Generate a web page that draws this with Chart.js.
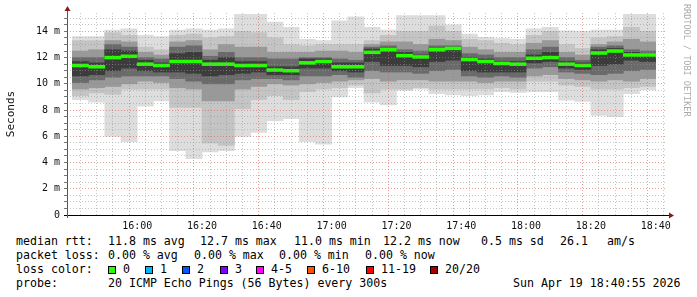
<!DOCTYPE html>
<html>
<head>
<meta charset="utf-8">
<script src="https://cdn.jsdelivr.net/npm/chart.js@4.4.1/dist/chart.umd.min.js"></script>
<style>
  html, body { margin: 0; padding: 0; background: #fff; }
  #wrap { position: relative; width: 697px; height: 297px; overflow: hidden; font-family: "DejaVu Sans Mono", monospace; }
  #plot { position: absolute; left: 0; top: 0; width: 697px; height: 232px; }
  .t { position: absolute; font-size: 11.6px; line-height: 14px; color: #000; white-space: pre; }
  .sq { position: absolute; width: 6px; height: 6px; border: 1px solid #000; }
  #wm { position: absolute; left: 682px; top: 4px; writing-mode: vertical-rl; font-size: 8.5px; color: #aaa; white-space: pre; }
</style>
</head>
<body>
<div id="wrap">
  <div id="plot"><canvas id="chart"></canvas></div>
  <div id="wm">RRDTOOL / TOBI OETIKER</div>
  <div id="legend"></div>
</div>
<script>
// 5 minute bins, last 3 hours (15:40:55 - 18:40:55)
const bins = ['15:40','15:45','15:50','15:55','16:00','16:05','16:10','16:15','16:20','16:25',
              '16:30','16:35','16:40','16:45','16:50','16:55','17:00','17:05','17:10','17:15',
              '17:20','17:25','17:30','17:35','17:40','17:45','17:50','17:55','18:00','18:05',
              '18:10','18:15','18:20','18:25','18:30','18:35'];

// median rtt per bin (ms)
const medianRtt = [11.4,11.3,12.0,12.1,11.5,11.4,11.7,11.7,11.5,11.5,
                   11.4,11.4,11.05,11.0,11.6,11.7,11.3,11.3,12.4,12.6,
                   12.15,12.05,12.6,12.7,11.85,11.7,11.55,11.5,11.95,12.0,
                   11.5,11.4,12.35,12.5,12.2,12.2];

// smoke: outer range (fastest / slowest ping)
const minRtt = [8.8,8.6,6.0,5.6,8.3,8.7,4.9,4.3,4.8,4.9,
                6.0,6.3,7.2,7.35,5.6,5.4,9.0,9.7,8.6,8.4,
                9.5,9.6,9.25,9.15,9.1,9.15,9.4,9.35,9.4,9.4,
                8.75,8.65,7.6,7.5,9.25,9.55];
const maxRtt = [13.6,13.6,14.1,14.2,13.7,13.6,14.1,14.2,14.1,14.2,
                15.3,15.3,14.7,14.3,13.4,13.3,14.8,15.1,14.3,14.1,
                15.2,15.2,15.2,14.5,13.8,13.55,13.45,13.4,14.2,14.3,
                14.05,14.0,14.1,14.1,15.3,15.3];

// inner smoke layers, light to dark
const lowA  = [9.1,9.3,9.2,9.6,9.6,9.6,8.2,8.2,5.5,5.3,
               8.1,8.8,9.1,8.8,9.4,9.6,9.7,9.9,9.3,9.6,
               9.6,9.7,9.6,9.6,9.6,9.6,9.7,9.6,10.2,10.2,
               9.9,9.8,9.6,9.6,9.7,9.8];
const highA = [13.3,13.3,13.9,13.7,12.8,12.6,13.7,13.8,13.5,13.6,
               14.0,13.9,13.5,13.0,12.9,13.0,13.0,13.0,13.3,13.7,
               14.0,14.0,14.4,14.0,13.4,13.3,13.1,13.0,13.7,14.0,
               13.0,12.7,13.5,13.6,14.3,14.0];
const lowB  = [9.6,9.7,9.8,10.0,10.2,10.1,9.7,9.6,8.7,8.7,
               9.6,9.8,10.0,9.9,10.0,10.1,10.2,10.3,10.4,10.2,
               10.3,10.3,10.2,10.2,10.2,10.1,10.2,10.2,10.6,10.7,
               10.4,10.3,10.2,10.3,10.2,10.4];
const highB = [12.5,12.6,13.3,13.2,12.4,12.2,13.2,13.3,12.6,13.0,
               12.8,12.8,12.4,12.4,12.4,12.5,12.5,12.4,13.0,13.2,
               13.2,13.0,13.4,13.3,12.8,12.6,12.4,12.4,13.1,13.3,
               12.4,12.2,13.0,13.2,13.4,13.2];
const lowC  = [10.1,10.3,10.5,10.6,10.6,10.6,10.4,10.2,10.0,10.0,
               10.3,10.4,10.4,10.3,10.6,10.6,10.7,10.5,11.0,10.9,
               10.9,10.8,11.0,11.1,10.6,10.5,10.6,10.5,11.2,11.3,
               10.9,10.8,10.7,10.8,11.0,11.1];
const highC = [12.0,12.0,13.0,12.8,12.0,11.9,12.8,12.9,12.1,12.4,
               12.0,12.0,11.9,11.9,12.0,12.0,11.9,11.8,12.8,12.9,
               12.6,12.5,12.9,12.9,12.3,12.2,12.0,12.0,12.6,12.8,
               12.0,11.8,12.8,12.9,12.6,12.5];
const lowD  = [10.6,10.7,11.0,11.2,11.0,10.9,10.9,10.8,10.6,10.7,
               10.8,10.9,10.7,10.7,11.2,11.2,11.0,10.9,11.7,11.4,
               11.4,11.3,11.7,11.8,11.0,10.9,10.9,10.9,11.6,11.7,
               11.2,11.1,11.4,11.5,11.8,11.7];
const highD = [11.7,11.6,12.6,12.5,11.8,11.6,12.3,12.4,11.8,12.0,
               11.7,11.7,11.3,11.3,11.9,11.9,11.6,11.6,12.65,12.7,
               12.4,12.2,12.7,12.8,12.0,11.9,11.7,11.7,12.2,12.4,
               11.7,11.6,12.6,12.7,12.4,12.3];

const lossColors = ['#26ff00','#00b8ff','#0059ff','#7e00ff','#ff00ff','#ff5500','#ff0000','#a10000'];
const lossLabels = ['0','1','2','3','4-5','6-10','11-19','20/20'];

// minutes since 15:00
function toMin(s) {
    const p = s.split(':');
    return parseInt(p[0]) * 60 + parseInt(p[1]) - 900;
}
function fmtMin(v) {
    const t = v + 900;
    return String(Math.floor(t / 60)).padStart(2, '0') + ':' + String(t % 60).padStart(2, '0');
}
const binMid = bins.map(b => toMin(b) + 2.5);

function band(lo, hi, color) {
    return {
        type: 'bar',
        data: bins.map((b, i) => ({x: binMid[i], y: [lo[i], hi[i]]})),
        backgroundColor: color,
        borderWidth: 0,
        barPercentage: 1,
        categoryPercentage: 1,
        grouped: false
    };
}

const mono = '"DejaVu Sans Mono", monospace';
const minorGrid = 'rgba(150,150,150,0.55)';
const majorGrid = 'rgba(225,90,90,0.6)';

// axis lines and arrows like rrdtool
const axesPlugin = {
    id: 'rrdAxes',
    afterDraw(chart) {
        const ctx = chart.ctx;
        const a = chart.chartArea;
        ctx.save();
        ctx.lineWidth = 1;
        ctx.strokeStyle = '#000';
        ctx.beginPath();
        ctx.moveTo(a.left - 3, Math.round(a.bottom) + 0.5);
        ctx.lineTo(a.right + 3, Math.round(a.bottom) + 0.5);
        ctx.stroke();
        ctx.strokeStyle = '#555';
        ctx.beginPath();
        ctx.moveTo(Math.round(a.left) + 0.5, a.bottom + 3);
        ctx.lineTo(Math.round(a.left) + 0.5, a.top - 3);
        ctx.stroke();
        ctx.fillStyle = '#8b1a1a';
        const lx = Math.round(a.left) + 0.5;
        ctx.beginPath();
        ctx.moveTo(lx, a.top - 7);
        ctx.lineTo(lx - 3, a.top - 2);
        ctx.lineTo(lx + 3, a.top - 2);
        ctx.closePath();
        ctx.fill();
        const by = Math.round(a.bottom) + 0.5;
        ctx.beginPath();
        ctx.moveTo(a.right + 7, by);
        ctx.lineTo(a.right + 2, by - 3);
        ctx.lineTo(a.right + 2, by + 3);
        ctx.closePath();
        ctx.fill();
        ctx.restore();
    }
};

const datasets = [
    band(medianRtt.map(m => m - 0.11), medianRtt.map(m => m + 0.11), lossColors[0]),
    band(lowD, highD, '#3c3c3c'),
    band(lowC, highC, '#6a6a6a'),
    band(lowB, highB, '#999999'),
    band(lowA, highA, '#c4c4c4'),
    band(minRtt, maxRtt, '#dddddd')
];

new Chart(document.getElementById('chart'), {
    type: 'bar',
    data: { datasets: datasets },
    options: {
        responsive: true,
        maintainAspectRatio: false,
        animation: false,
        events: [],
        layout: { padding: { top: 13, right: 30, left: 0, bottom: 0 } },
        plugins: { legend: { display: false }, tooltip: { enabled: false } },
        scales: {
            x: {
                type: 'linear',
                min: 40 + 55 / 60,
                max: 220 + 55 / 60,
                afterFit: s => { s.height = 17; },
                afterBuildTicks: s => {
                    s.ticks = [];
                    for (let v = 45; v <= 220; v += 5) s.ticks.push({value: v});
                },
                ticks: {
                    autoSkip: false,
                    maxRotation: 0,
                    padding: 5,
                    color: '#111',
                    font: { family: mono, size: 10 },
                    callback: v => v % 20 === 0 ? fmtMin(v) : ''
                },
                grid: {
                    z: 1,
                    drawTicks: false,
                    color: ctx => (ctx.tick && ctx.tick.value % 20 === 0) ? majorGrid : minorGrid
                },
                border: { display: false, dash: [1, 2] }
            },
            y: {
                min: 0,
                max: 15.4,
                afterFit: s => { s.width = 67; },
                afterBuildTicks: s => {
                    s.ticks = [];
                    for (let v = 0; v <= 15; v += 0.5) s.ticks.push({value: v});
                },
                ticks: {
                    autoSkip: false,
                    padding: 4,
                    color: '#111',
                    font: { family: mono, size: 10 },
                    callback: v => v % 2 === 0 ? (v === 0 ? '0' : v + ' m') : ''
                },
                grid: {
                    z: 1,
                    tickLength: 3,
                    tickColor: '#777',
                    color: ctx => (ctx.tick && ctx.tick.value % 2 === 0) ? majorGrid : minorGrid
                },
                border: { display: false, dash: [1, 2] },
                title: {
                    display: true,
                    text: 'Seconds',
                    color: '#111',
                    font: { family: mono, size: 11 },
                    padding: { top: 5, bottom: 0 }
                }
            }
        }
    },
    plugins: [axesPlugin]
});

// legend text below the graph
const legend = document.getElementById('legend');
function put(x, y, text) {
    const d = document.createElement('div');
    d.className = 't';
    d.style.left = x + 'px';
    d.style.top = y + 'px';
    d.textContent = text;
    legend.appendChild(d);
    return d;
}
const lineTop = [234, 248, 262, 276];
put(16, lineTop[0], 'median rtt:');
[[108,'11.8 ms avg'],[200,'12.7 ms max'],[294,'11.0 ms min'],[383,'12.2 ms now'],
 [481,'0.5 ms sd'],[560,'26.1'],[607,'am/s']].forEach(s => put(s[0], lineTop[0], s[1]));
put(16, lineTop[1], 'packet loss:');
[[108,'0.00 % avg'],[194,'0.00 % max'],[279,'0.00 % min'],[365,'0.00 % now']]
    .forEach(s => put(s[0], lineTop[1], s[1]));
put(16, lineTop[2], 'loss color:');
const sqX = [108, 145, 182, 220, 256, 307, 366, 430];
lossLabels.forEach((lab, i) => {
    const q = document.createElement('div');
    q.className = 'sq';
    q.style.left = sqX[i] + 'px';
    q.style.top = '266px';
    q.style.background = lossColors[i];
    legend.appendChild(q);
    put(sqX[i] + 15, lineTop[2], lab);
});
put(16, lineTop[3], 'probe:');
put(108, lineTop[3], '20 ICMP Echo Pings (56 Bytes) every 300s');
const dt = put(0, lineTop[3], 'Sun Apr 19 18:40:55 2026');
dt.style.left = (681 - dt.offsetWidth) + 'px';
</script>
</body>
</html>
